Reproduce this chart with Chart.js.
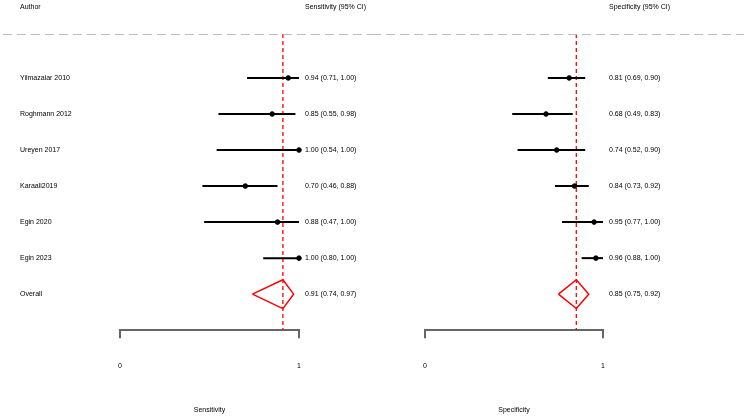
<!DOCTYPE html>
<html>
<head>
<meta charset="utf-8">
<script src="https://cdn.jsdelivr.net/npm/chart.js@4"></script>
<style>
  body { margin: 0; background: #fff; }
  #wrap { position: relative; width: 744px; height: 418px; }
  canvas { position: absolute; top: 0; }
  #sensCanvas { left: 0; }
  #specCanvas { left: 372px; }
</style>
</head>
<body>
<div id="wrap">
  <canvas id="sensCanvas" width="372" height="418"></canvas>
  <canvas id="specCanvas" width="372" height="418"></canvas>
</div>
<script>
const authors = [
  "Yilmazalar 2010",
  "Roghmann 2012",
  "Ureyen 2017",
  "Karaali2019",
  "Egin 2020",
  "Egin 2023",
];
const overallLabel = "Overall";

const sensEst = [0.94, 0.85, 1.0, 0.7, 0.88, 1.0];
const sensLow = [0.71, 0.55, 0.54, 0.46, 0.47, 0.8];
const sensHigh = [1.0, 0.98, 1.0, 0.88, 1.0, 1.0];
const sensOverall = [0.91, 0.74, 0.97]; // est, low, high

const specEst = [0.81, 0.68, 0.74, 0.84, 0.95, 0.96];
const specLow = [0.69, 0.49, 0.52, 0.73, 0.77, 0.88];
const specHigh = [0.9, 0.83, 0.9, 0.92, 1.0, 1.0];
const specOverall = [0.85, 0.75, 0.92];

const xTicks = [0, 1];

Chart.defaults.font.family = "'Liberation Sans', Arial, sans-serif";
Chart.defaults.font.size = 7;
Chart.defaults.color = "#000";

const Y_MIN = -1.22;
const Y_MAX = 7;

const fmt = (e, l, h) =>
  e.toFixed(2) + " (" + l.toFixed(2) + ", " + h.toFixed(2) + ")";

// text columns, header and the grey dashed rule
const textPlugin = {
  id: "forestText",
  afterDraw(chart, args, opts) {
    const c = chart.ctx;
    const y = chart.scales.y;
    const area = chart.chartArea;
    c.save();
    c.font = "7px 'Liberation Sans', Arial, sans-serif";
    c.fillStyle = "#000";
    c.textBaseline = "middle";
    c.textAlign = "left";

    // header
    if (opts.showAuthors) c.fillText("Author", 20, 7.5);
    c.fillText(opts.header, area.right + 6, 7.5);

    opts.est.forEach((e, i) => {
      const py = y.getPixelForValue(i);
      if (opts.showAuthors) c.fillText(authors[i], 20, py);
      c.fillText(fmt(e, opts.low[i], opts.high[i]), area.right + 6, py);
    });
    const oy = y.getPixelForValue(opts.est.length);
    if (opts.showAuthors) c.fillText(overallLabel, 20, oy);
    c.fillText(fmt(opts.overall[0], opts.overall[1], opts.overall[2]), area.right + 6, oy);

    // grey dashed rule under header
    c.strokeStyle = "#bdbdbd";
    c.lineWidth = 1;
    c.setLineDash([9, 5]);
    c.beginPath();
    c.moveTo(opts.ruleStart, area.top + 0.5);
    c.lineTo(chart.width, area.top + 0.5);
    c.stroke();
    c.restore();
  },
};

function buildDatasets(est, low, high, overall) {
  const ds = [];
  // confidence interval segments
  est.forEach((e, i) => {
    ds.push({
      type: "line",
      data: [{ x: low[i], y: i }, { x: high[i], y: i }],
      borderColor: "#000",
      borderWidth: 2,
      pointRadius: 0,
      fill: false,
      clip: false,
    });
  });
  // point estimates
  ds.push({
    type: "scatter",
    data: est.map((e, i) => ({ x: e, y: i })),
    backgroundColor: "#000",
    borderColor: "#000",
    pointRadius: 2.3,
    pointHoverRadius: 2.3,
    clip: false,
  });
  // pooled diamond
  const r = est.length;
  const h = 0.4;
  ds.push({
    type: "line",
    data: [
      { x: overall[1], y: r },
      { x: overall[0], y: r - h },
      { x: overall[2], y: r },
      { x: overall[0], y: r + h },
      { x: overall[1], y: r },
    ],
    borderColor: "#ff0000",
    borderWidth: 1.5,
    pointRadius: 0,
    fill: false,
    tension: 0,
    clip: false,
  });
  // reference line at pooled estimate
  ds.push({
    type: "line",
    data: [{ x: overall[0], y: Y_MIN }, { x: overall[0], y: Y_MAX }],
    borderColor: "#ff0000",
    borderWidth: 1.3,
    borderDash: [4, 3],
    pointRadius: 0,
    fill: false,
  });
  return ds;
}

function makeChart(id, title, est, low, high, overall, padLeft, padRight, extra) {
  const ctx = document.getElementById(id).getContext("2d");
  return new Chart(ctx, {
    type: "scatter",
    data: { datasets: buildDatasets(est, low, high, overall) },
    options: {
      responsive: false,
      animation: false,
      layout: {
        padding: { left: padLeft, right: padRight, top: 34, bottom: 4 },
      },
      plugins: {
        legend: { display: false },
        tooltip: { enabled: false },
        forestText: Object.assign(
          { est: est, low: low, high: high, overall: overall },
          extra
        ),
      },
      scales: {
        x: {
          type: "linear",
          min: 0,
          max: 1,
          afterBuildTicks: (axis) => {
            axis.ticks = xTicks.map((v) => ({ value: v }));
          },
          border: { display: true, color: "#666", width: 2 },
          grid: {
            display: true,
            drawOnChartArea: false,
            drawTicks: true,
            tickLength: 8,
            color: "#666",
            lineWidth: 2,
          },
          ticks: { padding: 24, color: "#000", font: { size: 7 } },
          title: {
            display: true,
            text: title,
            color: "#000",
            font: { size: 7 },
            padding: { top: 11, bottom: 0 },
          },
        },
        y: {
          type: "linear",
          reverse: true,
          min: Y_MIN,
          max: Y_MAX,
          display: false,
        },
      },
    },
    plugins: [textPlugin],
  });
}

makeChart("sensCanvas", "Sensitivity", sensEst, sensLow, sensHigh, sensOverall, 120, 73, {
  showAuthors: true,
  header: "Sensitivity (95% CI)",
  ruleStart: 3,
});
makeChart("specCanvas", "Specificity", specEst, specLow, specHigh, specOverall, 53, 141, {
  showAuthors: false,
  header: "Specificity (95% CI)",
  ruleStart: 0,
});
</script>
</body>
</html>
